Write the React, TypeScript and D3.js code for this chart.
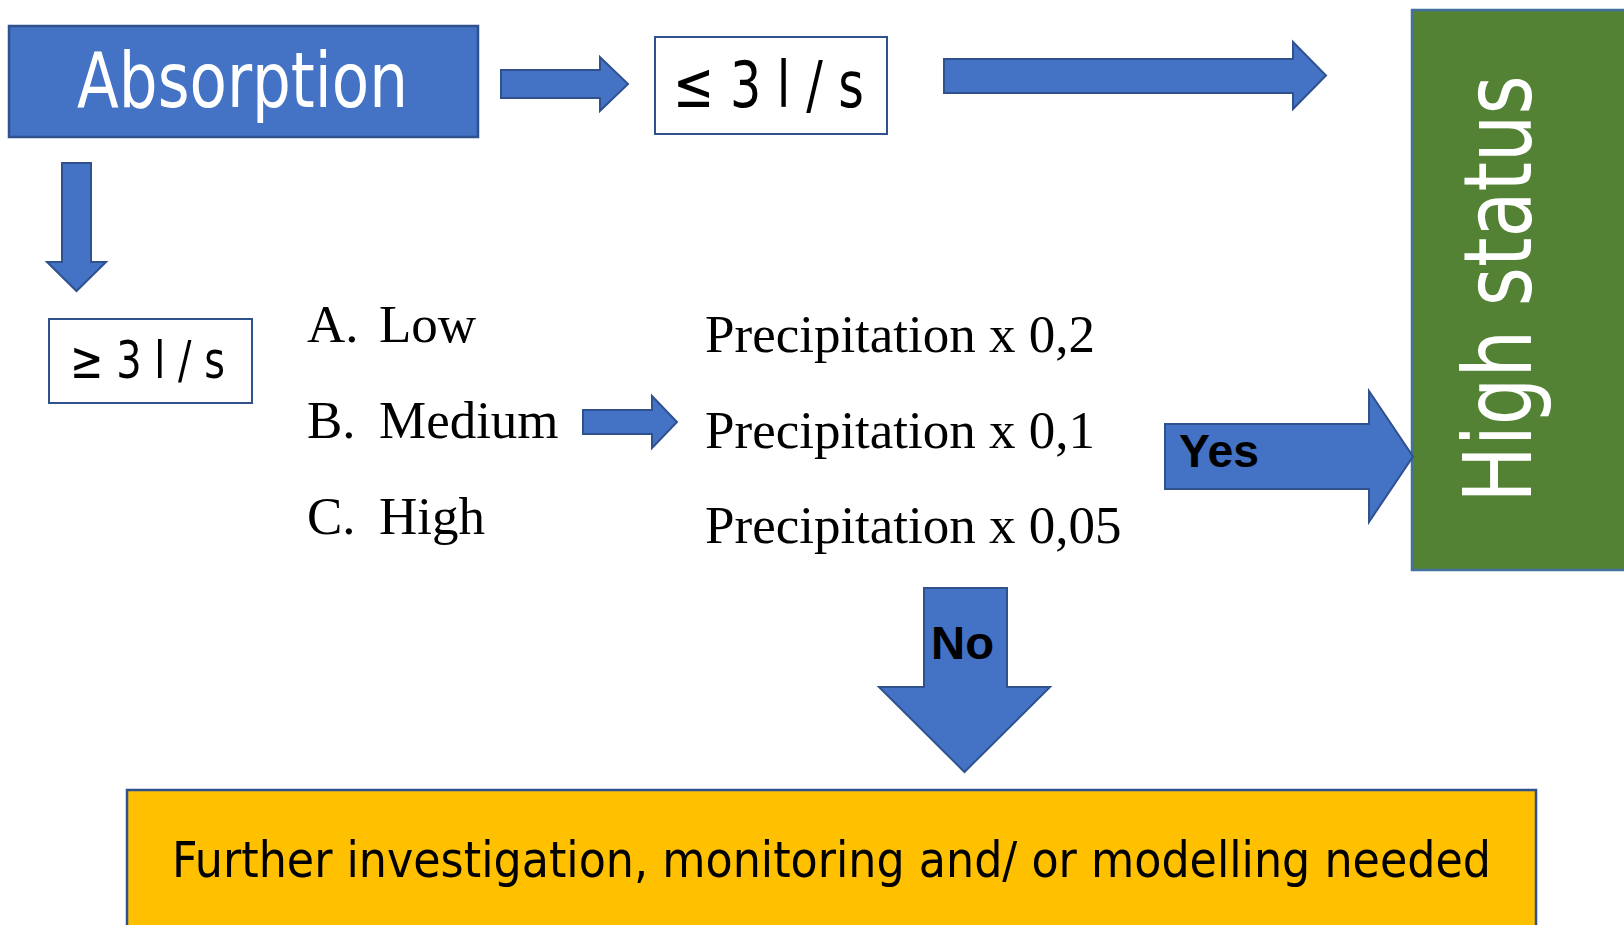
import React from "react";
import * as d3 from "d3";

const thresholdLabels = ["≤ 3 l / s", "≥ 3 l / s"];
const levelLetters = ["A.", "B.", "C."];
const levelNames = ["Low", "Medium", "High"];
const precipFactors = ["0,2", "0,1", "0,05"];
const titleText = "Absorption";
const statusText = "High status";
const yesText = "Yes";
const noText = "No";
const outcomeText = "Further investigation, monitoring and/ or modelling needed";

const BLUE = "#4472C4";
const EDGE = "#2F528F";
const GREEN = "#548235";
const GOLD = "#FFC000";

type P = [number, number];
const line = d3.line<P>().x((d) => d[0]).y((d) => d[1]);

function rightArrow(x0: number, hx: number, tx: number, by0: number, by1: number, hy0: number, hy1: number) {
  const ty = (hy0 + hy1) / 2;
  const pts: P[] = [[x0, by0], [hx, by0], [hx, hy0], [tx, ty], [hx, hy1], [hx, by1], [x0, by1]];
  return line(pts) + "Z";
}
function downArrow(y0: number, hy: number, ty: number, bx0: number, bx1: number, hx0: number, hx1: number) {
  const tx = (hx0 + hx1) / 2;
  const pts: P[] = [[bx0, y0], [bx1, y0], [bx1, hy], [hx1, hy], [tx, ty], [hx0, hy], [bx0, hy]];
  return line(pts) + "Z";
}

const levelY = d3.scalePoint<number>().domain([0, 1, 2]).range([342, 534]);
const precipY = d3.scalePoint<number>().domain([0, 1, 2]).range([352, 543]);

const condensed = "'Liberation Sans Narrow', 'DejaVu Sans Condensed', 'Open Sans', sans-serif";
const serif = "'Liberation Serif', 'Times New Roman', serif";

export default function App() {
  return (
    <svg width={1624} height={925} style={{ position: "absolute", left: 0, top: 0, display: "block", background: "#fff" }}>
      {/* Absorption box */}
      <rect x={9} y={26} width={469} height={111} fill={BLUE} stroke={EDGE} strokeWidth={2.5} />
      <text x={77} y={107} fill="#fff" fontFamily={condensed} fontSize={76} textLength={331} lengthAdjust="spacingAndGlyphs">{titleText}</text>

      {/* arrow to <= box */}
      <path d={rightArrow(501, 600, 628, 70, 98, 57, 111)} fill={BLUE} stroke={EDGE} strokeWidth={2} />

      {/* <= box */}
      <rect x={655} y={37} width={232} height={97} fill="#fff" stroke={EDGE} strokeWidth={2} />
      <text x={673} y={107} fill="#000" fontFamily={condensed} fontSize={64} textLength={191} lengthAdjust="spacingAndGlyphs">{thresholdLabels[0]}</text>

      {/* long arrow to High status */}
      <path d={rightArrow(944, 1293, 1326, 59, 93, 42, 109)} fill={BLUE} stroke={EDGE} strokeWidth={2} />

      {/* High status box */}
      <rect x={1412} y={10} width={230} height={560} fill={GREEN} stroke="#41719C" strokeWidth={2.5} />
      <text transform={`translate(1531,${289}) rotate(-90)`} textAnchor="middle" fill="#fff" fontFamily="'DejaVu Sans', Verdana, sans-serif" fontSize={94} textLength={427} lengthAdjust="spacingAndGlyphs">{statusText}</text>

      {/* down arrow */}
      <path d={downArrow(163, 262, 291, 62, 91, 47, 106)} fill={BLUE} stroke={EDGE} strokeWidth={2} />

      {/* >= box */}
      <rect x={49} y={319} width={203} height={84} fill="#fff" stroke={EDGE} strokeWidth={2} />
      <text x={70} y={378} fill="#000" fontFamily={condensed} fontSize={52} textLength={155} lengthAdjust="spacingAndGlyphs">{thresholdLabels[1]}</text>

      {/* levels */}
      {levelNames.map((n, i) => (
        <g key={n}>
          <text x={307} y={levelY(i)} fontFamily={serif} fontSize={53} fill="#000">{levelLetters[i]}</text>
          <text x={379} y={levelY(i)} fontFamily={serif} fontSize={53} fill="#000">{n}</text>
        </g>
      ))}

      {/* medium arrow */}
      <path d={rightArrow(583, 652, 677, 410, 434, 396, 448)} fill={BLUE} stroke={EDGE} strokeWidth={2} />

      {/* precipitation */}
      {precipFactors.map((f, i) => (
        <text key={f} x={705} y={precipY(i)} fontFamily={serif} fontSize={53} fill="#000">{`Precipitation x ${f}`}</text>
      ))}

      {/* Yes arrow */}
      <path d={rightArrow(1165, 1369, 1413, 424, 489, 391, 522)} fill={BLUE} stroke={EDGE} strokeWidth={2} />
      <text x={1179} y={467} fontFamily="'Liberation Sans', Arial, sans-serif" fontWeight="bold" fontSize={46} fill="#000" textLength={80} lengthAdjust="spacingAndGlyphs">{yesText}</text>

      {/* No arrow */}
      <path d={downArrow(588, 687, 772, 924, 1007, 879, 1050)} fill={BLUE} stroke={EDGE} strokeWidth={2} />
      <text x={931} y={659} fontFamily="'Liberation Sans', Arial, sans-serif" fontWeight="bold" fontSize={46} fill="#000" textLength={63} lengthAdjust="spacingAndGlyphs">{noText}</text>

      {/* outcome box */}
      <rect x={127} y={790} width={1409} height={150} fill={GOLD} stroke={EDGE} strokeWidth={2.5} />
      <text x={172} y={877} fontFamily={condensed} fontSize={50} fill="#000" textLength={1319} lengthAdjust="spacingAndGlyphs">{outcomeText}</text>
    </svg>
  );
}
